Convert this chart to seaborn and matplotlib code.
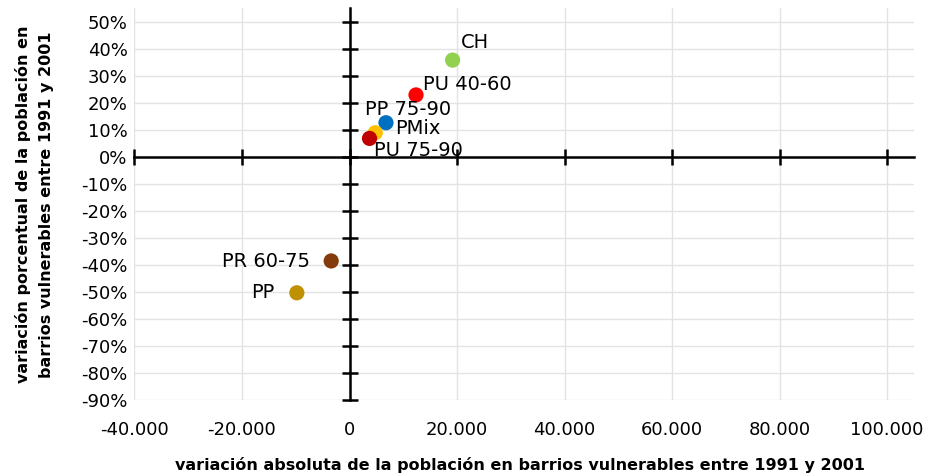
"""
Scatter of absolute vs. percentage change of population in vulnerable neighbourhoods.
"""

import matplotlib
matplotlib.use("Agg")
import matplotlib.pyplot as plt
import pandas as pd
import seaborn as sns
from matplotlib.ticker import FuncFormatter, PercentFormatter

# Data
groups = ["CH", "PU 40-60", "PP 75-90", "PMix", "PU 75-90", "PR 60-75", "PP "]
abs_change = [19180, 12370, 6780, 4790, 3720, -3410, -9800]
pct_change = [0.358, 0.229, 0.126, 0.089, 0.068, -0.386, -0.504]

colors = ["#92D050", "#FF0000", "#0070C0", "#FFC000", "#C00000", "#843C0C", "#BF9000"]

x_ticks = [-40000, -20000, 0, 20000, 40000, 60000, 80000, 100000]
y_ticks = [-0.9, -0.8, -0.7, -0.6, -0.5, -0.4, -0.3, -0.2, -0.1,
           0.0, 0.1, 0.2, 0.3, 0.4, 0.5]

# Label offsets in pixels (dx, dy) and horizontal alignment
label_offsets = [(8, 18, "left"), (7, 10, "left"), (-21, 13, "left"),
                 (20, 4, "left"), (4, -12, "left"), (-21, -1, "right"),
                 (-22, 0, "right")]

sns.set_style("white")
plt.rcParams["font.family"] = ["DejaVu Sans"]
plt.rcParams["axes.unicode_minus"] = False
plt.rcParams["text.color"] = "black"
plt.rcParams["xtick.color"] = "black"
plt.rcParams["ytick.color"] = "black"

df = pd.DataFrame({"group": groups, "x": abs_change, "y": pct_change})

fig = plt.figure(figsize=(9.3, 4.76), dpi=100)
ax = fig.add_axes([0.1446, 0.1603, 0.9828 - 0.1446, 0.9826 - 0.1603])

# Gridlines behind everything
ax.set_axisbelow(True)
ax.grid(True, color="#E3E3E3", linewidth=1.0)

sns.scatterplot(
    data=df, x="x", y="y", hue="group",
    palette=dict(zip(groups, colors)),
    s=120, edgecolor="none", legend=False, zorder=3, ax=ax
)

ax.set_xlim(-40000, 105000)
ax.set_ylim(-0.9, 0.55)
ax.set_xticks(x_ticks)
ax.set_yticks(y_ticks)

# Axes crossing at the origin, with tick marks through them
ax.spines["left"].set_position(("data", 0))
ax.spines["bottom"].set_position(("data", 0))
ax.spines[["top", "right"]].set_visible(False)
for side in ["left", "bottom"]:
    ax.spines[side].set_linewidth(1.8)
    ax.spines[side].set_color("black")
ax.tick_params(direction="inout", length=11, width=1.8, color="black",
               labelleft=False, labelbottom=False, left=True, bottom=True)
ax.set_xlabel("")
ax.set_ylabel("")

# Tick labels at the edges of the plot area
sec_y = ax.secondary_yaxis(0.0)
sec_y.set_yticks(y_ticks)
sec_y.yaxis.set_major_formatter(PercentFormatter(1.0, decimals=0))
sec_y.tick_params(length=0, pad=5, labelsize=13)
sec_y.spines["left"].set_visible(False)

sec_x = ax.secondary_xaxis(0.0)
sec_x.set_xticks(x_ticks)
sec_x.xaxis.set_major_formatter(
    FuncFormatter(lambda v, _: f"{v:,.0f}".replace(",", "."))
)
sec_x.tick_params(length=0, pad=15, labelsize=13)
sec_x.spines["bottom"].set_visible(False)

# Point labels
for g, xv, yv, (dx, dy, ha) in zip(groups, abs_change, pct_change, label_offsets):
    ax.annotate(g.strip(), (xv, yv), xytext=(dx * 0.72, dy * 0.72),
                textcoords="offset points", ha=ha, va="center",
                fontsize=14, zorder=4)

# Axis titles
fig.text(0.559, 0.024, "variación absoluta de la población en barrios vulnerables entre 1991 y 2001",
         ha="center", va="center", fontsize=11.5, fontweight="bold")
fig.text(0.037, 0.57, "variación porcentual de la población en\nbarrios vulnerables entre 1991 y 2001",
         ha="center", va="center", rotation=90, fontsize=11.5,
         fontweight="bold", linespacing=1.65)

fig.savefig("out.png", dpi=100)
plt.close(fig)
